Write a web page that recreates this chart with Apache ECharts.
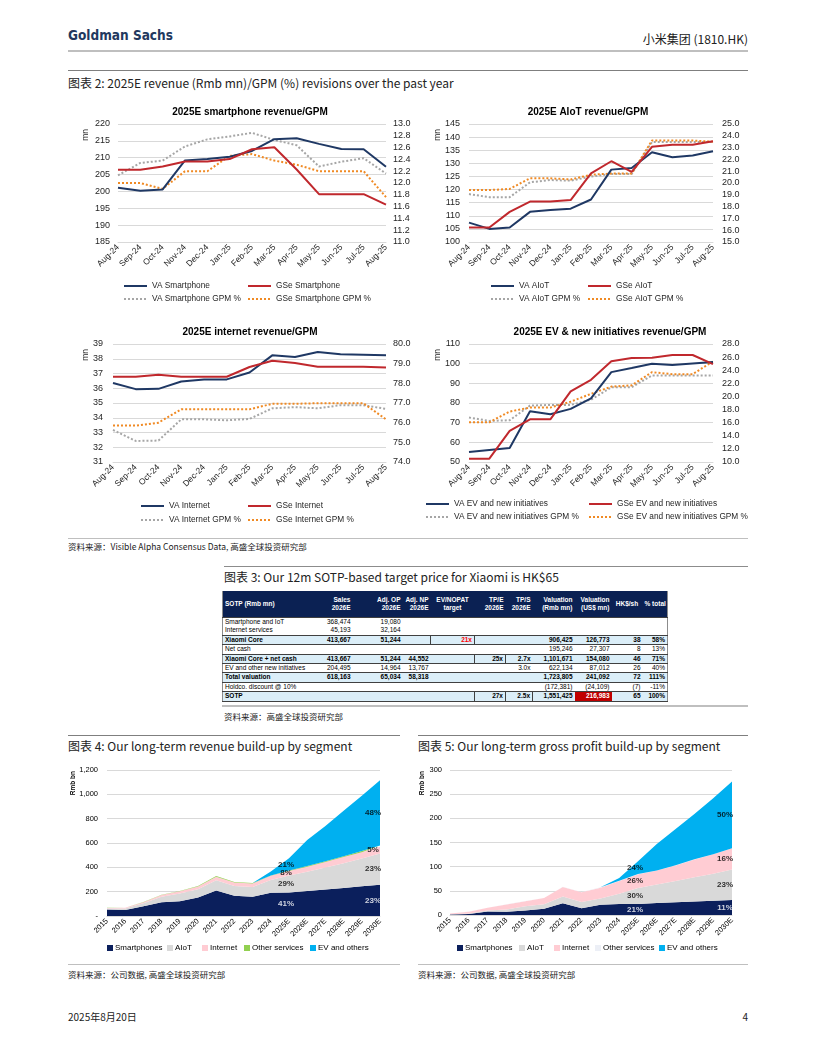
<!DOCTYPE html>
<html><head><meta charset="utf-8">
<script src="https://cdn.jsdelivr.net/npm/echarts/dist/echarts.min.js"></script>
<style>
html,body{margin:0;padding:0;width:816px;height:1056px;background:#fff;overflow:hidden;}
.t{position:absolute;white-space:nowrap;line-height:1;color:#222;}
.cj{font-family:"Noto Sans CJK SC","Noto Sans",sans-serif;}
.hl{position:absolute;height:0;}
.ch{position:absolute;}
#sotp{position:absolute;left:222px;top:591px;width:445px;border-collapse:collapse;table-layout:fixed;font-family:"Liberation Sans",Arial,sans-serif;font-size:6.5px;color:#000;border-left:1px solid #8c8c8c;border-right:1px solid #8c8c8c;}
#sotp th{background:#0b2153;color:#fff;font-weight:bold;height:26px;padding:0 2px;line-height:8.5px;vertical-align:middle;text-align:right;white-space:pre-line;overflow:visible;}
#sotp th.nw{white-space:nowrap;}
#sotp td{height:8.4px;padding:0 2px;line-height:8.4px;white-space:nowrap;text-align:right;overflow:visible;}
#sotp td.lab{text-align:left;}
#sotp tr.b td{font-weight:bold;background:#dbeef8;border-top:1px solid #404040;border-bottom:1px solid #404040;}
#sotp td.box{border:1px solid #404040;}
#sotp td.red{color:#ff0000;}
#sotp td.rbg{background:#c00000 !important;color:#fff;}
</style>
</head><body>

<div class="t" style="left:68px;top:29px;font-family:'Liberation Sans Narrow','DejaVu Sans Condensed',sans-serif;font-size:13.5px;font-weight:bold;color:#22385e;">Goldman Sachs</div>
<div class="t cj" style="right:68px;top:33px;font-size:12px;">小米集团 (1810.HK)</div>
<div class="hl" style="left:68px;width:680px;top:50px;border-top:2px solid #bfbfbf;"></div>
<div class="hl" style="left:68px;width:680px;top:70px;border-top:1px solid #7f7f7f;"></div>
<div class="t cj" style="left:68px;top:77px;font-size:12px;">图表 2: 2025E revenue (Rmb mn)/GPM (%) revisions over the past year</div>

<div id="c1" class="ch" style="left:65px;top:95px;width:360px;height:215px;"></div>
<div id="c2" class="ch" style="left:420px;top:95px;width:360px;height:215px;"></div>
<div id="c3" class="ch" style="left:65px;top:315px;width:360px;height:215px;"></div>
<div id="c4" class="ch" style="left:420px;top:315px;width:360px;height:215px;"></div>

<div class="hl" style="left:68px;width:680px;top:538px;border-top:1px solid #bfbfbf;"></div>
<div class="t cj" style="left:68px;top:542px;font-size:8.5px;">资料来源：Visible Alpha Consensus Data, 高盛全球投资研究部</div>
<div class="hl" style="left:224px;width:524px;top:566px;border-top:1px solid #8c8c8c;"></div>
<div class="t cj" style="left:224px;top:571px;font-size:12px;">图表 3: Our 12m SOTP-based target price for Xiaomi is HK$65</div>

<table id="sotp"></table>

<div class="hl" style="left:222px;width:526px;top:705px;border-top:2px solid #bfbfbf;"></div>
<div class="t cj" style="left:224px;top:712px;font-size:8.5px;">资料来源：高盛全球投资研究部</div>
<div class="hl" style="left:68px;width:332px;top:735px;border-top:1px solid #7f7f7f;"></div>
<div class="hl" style="left:418px;width:330px;top:735px;border-top:1px solid #7f7f7f;"></div>
<div class="t cj" style="left:68px;top:740px;font-size:12px;">图表 4: Our long-term revenue build-up by segment</div>
<div class="t cj" style="left:418px;top:740px;font-size:12px;">图表 5: Our long-term gross profit build-up by segment</div>

<div id="c5" class="ch" style="left:60px;top:755px;width:345px;height:205px;"></div>
<div id="c6" class="ch" style="left:412px;top:755px;width:345px;height:205px;"></div>

<div class="hl" style="left:68px;width:332px;top:964px;border-top:1px solid #bfbfbf;"></div>
<div class="hl" style="left:418px;width:330px;top:964px;border-top:1px solid #bfbfbf;"></div>
<div class="t cj" style="left:68px;top:970px;font-size:8.5px;">资料来源：公司数据, 高盛全球投资研究部</div>
<div class="t cj" style="left:418px;top:970px;font-size:8.5px;">资料来源：公司数据, 高盛全球投资研究部</div>

<div class="t cj" style="left:68px;top:1012px;font-size:10px;">2025年8月20日</div>
<div class="t cj" style="right:68px;top:1012px;font-size:10px;">4</div>

<script>
// ---------- Data: revision charts ----------
const months = ['Aug-24','Sep-24','Oct-24','Nov-24','Dec-24','Jan-25','Feb-25','Mar-25','Apr-25','May-25','Jun-25','Jul-25','Aug-25'];

const vaSmartphone     = [201.1,200.2,200.6,209.2,209.6,210.3,212.0,215.5,215.8,214.1,212.6,212.5,207.3];
const gseSmartphone    = [206.4,206.4,207.4,208.9,208.9,209.6,212.5,213.1,206.5,199.2,199.2,199.2,196.1];
const vaSmartphoneGpm  = [12.13,12.34,12.38,12.62,12.74,12.79,12.85,12.73,12.64,12.28,12.36,12.42,12.16];
const gseSmartphoneGpm = [12.00,12.00,11.90,12.20,12.20,12.46,12.49,12.38,12.31,12.20,12.20,12.20,11.76];

const vaAiot     = [107.4,105.0,105.5,111.5,112.2,112.7,116.2,127.6,128.2,134.2,132.3,133.0,134.6];
const gseAiot    = [105.5,105.5,111.5,115.4,115.4,116.0,126.2,130.8,126.7,136.3,137.1,137.1,138.4];
const vaAiotGpm  = [19.06,18.80,18.80,20.06,20.25,20.20,20.54,20.77,20.77,23.47,23.47,23.47,23.47];
const gseAiotGpm = [19.40,19.40,19.50,20.40,20.40,20.30,20.70,20.80,20.80,23.60,23.60,23.60,23.50];

const vaInternet     = [36.35,35.94,35.96,36.46,36.60,36.60,37.07,38.23,38.12,38.46,38.30,38.27,38.23];
const gseInternet    = [36.78,36.78,36.91,36.78,36.78,36.78,37.44,37.87,37.71,37.46,37.46,37.46,37.41];
const vaInternetGpm  = [75.63,75.07,75.09,76.17,76.17,76.12,76.19,76.73,76.79,76.73,76.89,76.89,76.70];
const gseInternetGpm = [75.85,75.85,76.00,76.68,76.68,76.68,76.68,76.96,76.96,76.99,76.99,76.99,76.17];

const vaEv     = [55.1,56.1,57.1,75.8,74.3,77.0,82.4,95.7,97.8,100.0,99.3,100.1,100.8];
const gseEv    = [51.7,51.7,65.8,71.7,71.7,85.9,91.8,101.2,102.9,103.0,104.4,104.4,99.8];
const vaEvGpm  = [16.78,16.27,16.37,18.60,18.70,18.70,19.50,21.40,21.40,23.20,23.20,23.20,23.20];
const gseEvGpm = [16.06,16.06,17.70,18.30,18.30,19.20,20.40,21.50,21.70,23.70,23.40,23.40,25.35];

// ---------- Data: build-up charts ----------
const years = ['2015','2016','2017','2018','2019','2020','2021','2022','2023','2024','2025E','2026E','2027E','2028E','2029E','2030E'];
const segNames = ['Smartphones','AIoT','Internet','Other services','EV and others'];

const revSmartphones = [53.7,48.8,80.6,113.8,122.1,152.2,208.9,167.2,157.5,191.8,194,205,218,231,244,257];
const revAiot        = [8.7,12.4,23.4,43.8,62.1,67.4,85.0,80.0,80.1,104.1,138,158,180,203,228,257];
const revInternet    = [3.2,6.5,9.9,16.0,19.8,23.8,28.2,28.3,30.1,34.1,38,42,46,50,53,56];
const revOther       = [1.2,0.7,0.7,1.3,1.8,2.6,6.1,4.7,3.3,3.2,4,5,6,7,9,10];
const revEv          = [0,0,0,0,0,0,0,0,0,32.8,100,215,290,375,455,535];

const gpSmartphones = [1.0,2.0,7.1,6.8,9.5,13.0,24.5,14.0,21.0,23.0,23,25,26.5,28,29.5,31];
const gpAiot        = [0.3,1.0,2.0,4.7,8.7,9.0,14.0,12.8,13.0,21.2,33,38,44,50,56,63];
const gpInternet    = [1.6,3.8,6.0,10.3,10.3,13.0,19.5,20.5,22.3,25.9,28.5,29,32,37,40,44];
const gpOther       = [0.1,0.2,0.1,0.4,0.3,0.3,0.4,0.2,1.0,0.7,0.2,0.3,0.3,0.3,0.3,0.3];
const gpEv          = [0,0,0,0,0,0,0,0,0,5.6,26.5,54.5,75,93.5,115.5,138];

const labelYears = ['2025E','2030E'];

// ---------- Data: SOTP table ----------
const tableHeader = ['SOTP (Rmb mn)','Sales\n2026E','Adj. OP\n2026E','Adj. NP\n2026E','EV/NOPAT\ntarget','TP/E\n2026E','TP/S\n2026E','Valuation\n(Rmb mn)','Valuation\n(US$ mn)','HK$/sh','% total'];
const tableRows = [
 ['Smartphone and IoT','368,474','19,080','','','','','','','',''],
 ['Internet services','45,193','32,164','','','','','','','',''],
 ['Xiaomi Core','413,667','51,244','','21x','','','906,425','126,773','38','58%'],
 ['Net cash','','','','','','','195,246','27,307','8','13%'],
 ['Xiaomi Core + net cash','413,667','51,244','44,552','','25x','2.7x','1,101,671','154,080','46','71%'],
 ['EV and other new initiatives','204,495','14,964','13,767','','','3.0x','622,134','87,012','26','40%'],
 ['Total valuation','618,163','65,034','58,318','','','','1,723,805','241,092','72','111%'],
 ['Holdco. discount @ 10%','','','','','','','(172,381)','(24,109)','(7)','-11%'],
 ['SOTP','','','','','27x','2.5x','1,551,425','216,983','65','100%']
];
const colWidths = [83,47,50,28,44,31,27,42,37,31,25];
const boldRows = [2,4,6,8];
const boxCells = ['2-4','4-5','8-5','8-6'];

// ---------- Table ----------
(function(){
  const tb = document.getElementById('sotp');
  let h = '<colgroup>' + colWidths.map(w=>'<col style="width:'+w+'px">').join('') + '</colgroup>';
  h += '<tr>' + tableHeader.map((t,i)=>{
    let al = i===0?'left':(i===4||i>=9?'center':'right');
    return '<th class="'+(i>=9?'nw':'')+'" style="text-align:'+al+'">'+t+'</th>';
  }).join('') + '</tr>';
  tableRows.forEach((r,ri)=>{
    const b = boldRows.includes(ri);
    h += '<tr class="'+(b?'b':'')+'" style="'+(ri===0?'border-top:1px solid #404040;':'')+'">';
    r.forEach((c,ci)=>{
      let cls = [];
      if(ci===0) cls.push('lab');
      if(boxCells.includes(ri+'-'+ci)) cls.push('box');
      if(ri===2 && ci===4) cls.push('red');
      if(ri===8 && ci===8) cls.push('rbg');
      h += '<td class="'+cls.join(' ')+'">'+c+'</td>';
    });
    h += '</tr>';
  });
  tb.innerHTML = h;
})();

// ---------- Line charts ----------
const FONT = '"Liberation Sans", Arial, sans-serif';
const NAVY='#1f3864', RED='#c0282d', GRAY='#a6a6a6', ORANGE='#f08a24';

function lineChart(id, cfg){
  const chart = echarts.init(document.getElementById(id));
  const styles = [
    {color:NAVY, type:'solid', axis:0},
    {color:RED, type:'solid', axis:0},
    {color:GRAY, type:[2,2], axis:1},
    {color:ORANGE, type:[2,2], axis:1}
  ];
  chart.setOption({
    animation:false,
    textStyle:{fontFamily:FONT},
    title:{text:cfg.title, left:cfg.titleX, textAlign:'center', top:7, textStyle:{fontSize:10, fontWeight:'bold', color:'#000', fontFamily:FONT}},
    grid:{left:cfg.gl, width:cfg.gw, top:29, height:118, outerBoundsMode:'none', containLabel:false},
    xAxis:{type:'category', data:months, boundaryGap:false,
      axisLine:{lineStyle:{color:'#d9d9d9'}}, axisTick:{show:false},
      axisLabel:{rotate:45, interval:0, fontSize:8.5, color:'#262626', margin:4, fontFamily:FONT}},
    yAxis:[
      {type:'value', min:cfg.l[0], max:cfg.l[1], interval:cfg.l[2],
       axisLabel:{fontSize:9, color:'#262626', margin:cfg.lm, fontFamily:FONT},
       splitLine:{lineStyle:{color:'#d9d9d9'}}, axisLine:{show:false}, axisTick:{show:false}},
      {type:'value', min:cfg.r[0], max:cfg.r[1], interval:cfg.r[2],
       axisLabel:{fontSize:9, color:'#262626', margin:cfg.rm, fontFamily:FONT, formatter:v=>v.toFixed(1)},
       splitLine:{show:false}, axisLine:{show:false}, axisTick:{show:false}}
    ],
    legend: cfg.names.map((n,i)=>({data:[n], left:cfg.leg[i][0], top:cfg.leg[i][1], itemWidth:23, itemHeight:8, padding:0, selectedMode:false,
      itemStyle:{opacity:0},
      textStyle:{fontSize:8.3, color:'#262626', fontFamily:FONT}})),
    graphic:[{type:'text', left:cfg.mn[0], top:cfg.mn[1], rotation:Math.PI/2, style:{text:'mn', fill:'#262626', font:'8.5px '+FONT}}],
    series: cfg.data.map((d,i)=>({
      name:cfg.names[i], type:'line', data:d, yAxisIndex:styles[i].axis, symbol:'none', showSymbol:false,
      z: i<2 ? 3 : 2,
      lineStyle:{color:styles[i].color, width:2, type:styles[i].type},
      itemStyle:{color:styles[i].color}
    }))
  });
}

lineChart('c1', {title:'2025E smartphone revenue/GPM', titleX:180, gl:53, gw:268, l:[185,220,5], r:[11,13,0.2], lm:8, rm:7,
  names:['VA Smartphone','GSe Smartphone','VA Smartphone GPM %','GSe Smartphone GPM %'],
  data:[vaSmartphone,gseSmartphone,vaSmartphoneGpm,gseSmartphoneGpm],
  leg:[[58,187],[182,187],[58,200],[182,200]], mn:[16,34]});
lineChart('c2', {title:'2025E AIoT revenue/GPM', titleX:163, gl:49, gw:244, l:[100,145,5], r:[15,25,1], lm:9, rm:9,
  names:['VA AIoT','GSe AIoT','VA AIoT GPM %','GSe AIoT GPM %'],
  data:[vaAiot,gseAiot,vaAiotGpm,gseAiotGpm],
  leg:[[70,187],[167,187],[70,200],[167,200]], mn:[13,34]});
lineChart('c3', {title:'2025E internet revenue/GPM', titleX:180, gl:48, gw:273, l:[31,39,1], r:[74,80,1], lm:10, rm:7,
  names:['VA Internet','GSe Internet','VA Internet GPM %','GSe Internet GPM %'],
  data:[vaInternet,gseInternet,vaInternetGpm,gseInternetGpm],
  leg:[[75,187],[182,187],[75,201],[182,201]], mn:[16,34]});
lineChart('c4', {title:'2025E EV & new initiatives revenue/GPM', titleX:185, gl:49, gw:244, l:[50,110,10], r:[10,28,2], lm:9, rm:9,
  names:['VA EV and new initiatives','GSe EV and new initiatives','VA EV and new initiatives GPM %','GSe EV and new initiatives GPM %'],
  data:[vaEv,gseEv,vaEvGpm,gseEvGpm],
  leg:[[5,185],[168,185],[5,198],[168,198]], mn:[13,34]});

// ---------- Area charts ----------
function areaChart(id, cfg){
  const chart = echarts.init(document.getElementById(id));
  const stacks = cfg.stacks;
  const totals = years.map((_,i)=>stacks.reduce((s,a)=>s+a[i],0));
  const labelData = [];
  labelYears.forEach(y=>{
    const i = years.indexOf(y);
    let cum = 0;
    stacks.forEach((arr,k)=>{
      const v = arr[i];
      if(k!==3){
        labelData.push({value:[y, cum+v/2],
          label:{formatter:Math.round(v/totals[i]*100)+'%', color:k===0?'#fff':'#000', offset:[i===years.length-1?-7:-3,0]}});
      }
      cum += v;
    });
  });
  const series = stacks.map((d,k)=>({
    name:segNames[k], type:'line', stack:'total', data:d, symbol:'none', showSymbol:false,
    lineStyle:{width:0}, areaStyle:{color:cfg.colors[k], opacity:1}, itemStyle:{color:cfg.colors[k]}, z:2
  }));
  series.push({type:'scatter', data:labelData, symbolSize:0, z:10, silent:true,
    label:{show:true, position:'inside', fontSize:8, fontWeight:'bold', fontFamily:FONT}});
  chart.setOption({
    animation:false,
    textStyle:{fontFamily:FONT},
    grid:{left:cfg.gl, width:cfg.gw, top:15, height:cfg.gh, outerBoundsMode:'none', containLabel:false},
    xAxis:{type:'category', data:years, boundaryGap:false, axisLine:{lineStyle:{color:'#d9d9d9'}}, axisTick:{show:false},
      axisLabel:{rotate:45, interval:0, fontSize:7.5, color:'#000', margin:4, fontFamily:FONT}},
    yAxis:{type:'value', min:0, max:cfg.max, interval:cfg.step, axisLine:{show:false}, axisTick:{show:false},
      splitLine:{lineStyle:{color:'#d9d9d9'}},
      axisLabel:{fontSize:7.5, color:'#000', margin:cfg.lm, fontFamily:FONT, formatter:v=> (v===0 ? cfg.zero : v.toLocaleString('en-US'))}},
    legend: segNames.map((n,k)=>({data:[n], left:cfg.leg[k], top:189, icon:'rect', itemWidth:6, itemHeight:6, itemGap:0, padding:0, selectedMode:false,
      textStyle:{fontSize:8, color:'#000', fontFamily:FONT, padding:[0,0,0,-3]}})),
    graphic:[{type:'text', left:cfg.rmb[0], top:cfg.rmb[1], rotation:Math.PI/2, style:{text:'Rmb bn', fill:'#000', font:'bold 6.5px '+FONT}}],
    series:series
  });
}

areaChart('c5', {stacks:[revSmartphones,revAiot,revInternet,revOther,revEv],
  colors:['#0b1f5c','#d9d9d9','#ffccd3','#92d050','#00b0f0'],
  gl:47, gw:273, gh:146, max:1200, step:200, lm:9, zero:'-',
  leg:[47,107,142,184,250], rmb:[10,16]});
areaChart('c6', {stacks:[gpSmartphones,gpAiot,gpInternet,gpOther,gpEv],
  colors:['#0b1f5c','#d9d9d9','#ffccd3','#eceff6','#00b0f0'],
  gl:38, gw:282, gh:145, max:300, step:50, lm:8, zero:'0',
  leg:[45,107,142,183,247], rmb:[7,16]});
</script>
</body></html>
